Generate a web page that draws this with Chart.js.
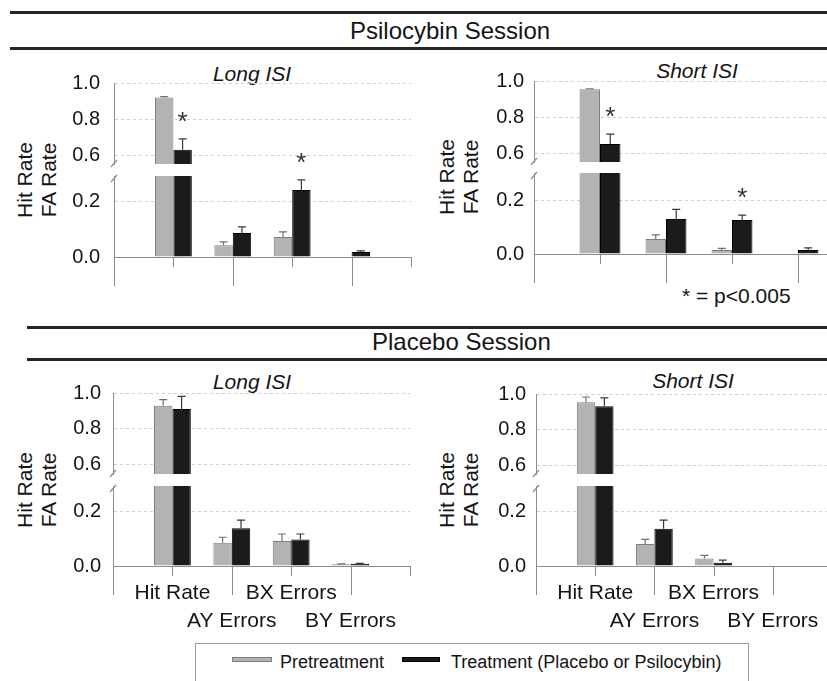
<!DOCTYPE html>
<html><head><meta charset="utf-8">
<script src="https://cdn.jsdelivr.net/npm/chart.js@4.4.1/dist/chart.umd.min.js"></script>
<style>
html,body{margin:0;padding:0;background:#fff;overflow:hidden;width:827px;height:681px;}
body{position:relative;font-family:"Liberation Sans",Arial,sans-serif;color:#141414;}
.rule{position:absolute;height:3px;background:#262626;right:0;}
.sess{position:absolute;font-size:24px;line-height:24px;white-space:nowrap;}
.ptitle{position:absolute;font-size:21px;line-height:21px;font-style:italic;white-space:nowrap;transform:translate(-50%,-50%);}
.ytitle{position:absolute;font-size:21px;line-height:24px;white-space:nowrap;text-align:center;transform:translate(-50%,-50%) rotate(-90deg);}
.note{position:absolute;font-size:21px;line-height:21px;white-space:nowrap;}
.legend{position:absolute;left:195px;top:643px;width:552px;height:60px;border:1px solid #9a9a9a;}
.sw{position:absolute;height:5px;box-sizing:border-box;}
.lt{position:absolute;font-size:18px;line-height:18px;white-space:nowrap;}
canvas{position:absolute;}
</style></head><body>
<div class="rule" style="left:10px;top:11px"></div>
<div class="sess" style="left:350px;top:19px">Psilocybin Session</div>
<div class="rule" style="left:10px;top:47px"></div>
<div class="rule" style="left:27px;top:326px"></div>
<div class="sess" style="left:372px;top:330px">Placebo Session</div>
<div class="rule" style="left:27px;top:358px"></div>

<div class="ptitle" style="left:252px;top:73px">Long ISI</div>
<div class="ptitle" style="left:697px;top:70px">Short ISI</div>
<div class="ptitle" style="left:252px;top:381px">Long ISI</div>
<div class="ptitle" style="left:693px;top:380px">Short ISI</div>

<div class="ytitle" style="left:37px;top:180px">Hit Rate<br>FA Rate</div>
<div class="ytitle" style="left:459px;top:177px">Hit Rate<br>FA Rate</div>
<div class="ytitle" style="left:37px;top:490px">Hit Rate<br>FA Rate</div>
<div class="ytitle" style="left:459px;top:490px">Hit Rate<br>FA Rate</div>

<div class="note" style="left:682px;top:285px">* = p&lt;0.005</div>

<div class="legend"></div>
<div class="sw" style="left:232px;top:657px;width:40px;background:#b3b3b3;border:1px solid #7d7d7d"></div>
<div class="lt" style="left:280px;top:653px">Pretreatment</div>
<div class="sw" style="left:402px;top:657px;width:38px;background:#1b1b1b;border:1px solid #000"></div>
<div class="lt" style="left:451px;top:653px">Treatment (Placebo or Psilocybin)</div>

<script>
// ---------- data ----------
const categories = ['Hit Rate', 'AY Errors', 'BX Errors', 'BY Errors'];
const seriesNames = ['Pretreatment', 'Treatment (Placebo or Psilocybin)'];
const yTicksUpper = [0.6, 0.8, 1.0];
const yTicksLower = [0.0, 0.2];

// Psilocybin session, long ISI
const psiLongPre      = [0.920, 0.042, 0.072, 0.000];
const psiLongPreErr   = [0.005, 0.012, 0.018, 0.000];
const psiLongTreat    = [0.632, 0.086, 0.240, 0.018];
const psiLongTreatErr = [0.060, 0.022, 0.036, 0.004];
const psiLongSig      = [true, false, true, false];

// Psilocybin session, short ISI
const psiShortPre      = [0.954, 0.056, 0.015, 0.000];
const psiShortPreErr   = [0.003, 0.015, 0.006, 0.000];
const psiShortTreat    = [0.650, 0.130, 0.126, 0.015];
const psiShortTreatErr = [0.055, 0.035, 0.018, 0.008];
const psiShortSig      = [true, false, true, false];

// Placebo session, long ISI
const plaLongPre      = [0.929, 0.086, 0.092, 0.006];
const plaLongPreErr   = [0.034, 0.020, 0.026, 0.002];
const plaLongTreat    = [0.911, 0.139, 0.098, 0.008];
const plaLongTreatErr = [0.070, 0.030, 0.020, 0.002];
const plaLongSig      = [false, false, false, false];

// Placebo session, short ISI
const plaShortPre      = [0.953, 0.081, 0.028, 0.000];
const plaShortPreErr   = [0.030, 0.017, 0.011, 0.000];
const plaShortTreat    = [0.931, 0.137, 0.012, 0.000];
const plaShortTreatErr = [0.047, 0.032, 0.010, 0.000];
const plaShortSig      = [false, false, false, false];

const panelData = {
  psiLong:  {pre: psiLongPre,  preErr: psiLongPreErr,  treat: psiLongTreat,  treatErr: psiLongTreatErr,  sig: psiLongSig},
  psiShort: {pre: psiShortPre, preErr: psiShortPreErr, treat: psiShortTreat, treatErr: psiShortTreatErr, sig: psiShortSig},
  plaLong:  {pre: plaLongPre,  preErr: plaLongPreErr,  treat: plaLongTreat,  treatErr: plaLongTreatErr,  sig: plaLongSig},
  plaShort: {pre: plaShortPre, preErr: plaShortPreErr, treat: plaShortTreat, treatErr: plaShortTreatErr, sig: plaShortSig}
};

// ---------- layout (pixel geometry of each broken-axis panel) ----------
const panels = [
  {key:'psiLong',  L:114, R:411, uTop:83,  uBot:164, lTop:176, lBot:257, uMin:0.553, lMax:0.29,  pad:14, labels:false},
  {key:'psiShort', L:534, R:864, uTop:81,  uBot:162, lTop:173, lBot:254, uMin:0.55,  lMax:0.30,  pad:10, labels:false},
  {key:'plaLong',  L:113, R:410, uTop:393, uBot:474, lTop:486, lBot:566, uMin:0.548, lMax:0.295, pad:12, labels:true},
  {key:'plaShort', L:536, R:832, uTop:394, uBot:474, lTop:486, lBot:566, uMin:0.55,  lMax:0.295, pad:10, labels:true}
];

Chart.defaults.font.family = '"Liberation Sans", Arial, sans-serif';
const AXIS = '#8c8c8c';

function makeChart(p, part) {
  const d = panelData[p.key];
  const isUpper = part === 'upper';
  const YW = 70, PT = 40, PR = 20;
  const top = isUpper ? p.uTop : p.lTop, bot = isUpper ? p.uBot : p.lBot;
  const XH = isUpper ? 0 : (p.labels ? 75 : 40);
  const PB = isUpper ? 40 : 0;
  const w = YW + (p.R - p.L) + PR;
  const h = PT + (bot - top) + PB + XH;
  const cv = document.createElement('canvas');
  cv.width = w; cv.height = h;
  cv.style.left = (p.L - YW) + 'px'; cv.style.top = (top - PT) + 'px';
  cv.style.width = w + 'px'; cv.style.height = h + 'px';
  document.body.appendChild(cv);

  const labels = ['', ...categories.map((c, i) => p.labels ? (i % 2 === 0 ? [c, ''] : ['', c]) : c), ''];
  const padArr = a => [null, ...a, null];

  const decor = {
    id: 'decor',
    afterDatasetsDraw(chart) {
      const {ctx, chartArea: a, scales: {y}} = chart;
      ctx.save();
      ctx.beginPath(); ctx.rect(a.left, a.top - 1, a.right - a.left, a.bottom - a.top + 1); ctx.clip();
      chart.data.datasets.forEach((ds, di) => {
        const meta = chart.getDatasetMeta(di);
        meta.data.forEach((el, j) => {
          const v = ds.data[j], e = ds.errors[j];
          if (v == null || !e) return;
          const tp = y.getPixelForValue(v + e);
          ctx.strokeStyle = ds.errColor; ctx.lineWidth = 1.2;
          ctx.beginPath();
          ctx.moveTo(el.x, el.y); ctx.lineTo(el.x, tp);
          ctx.moveTo(el.x - 4, tp); ctx.lineTo(el.x + 4, tp);
          ctx.stroke();
        });
      });
      ctx.restore();
      ctx.save();
      ctx.fillStyle = '#333';
      ctx.font = '26px "Liberation Sans", Arial, sans-serif';
      ctx.textAlign = 'center'; ctx.textBaseline = 'middle';
      chart.data.datasets.forEach((ds, di) => {
        if (!ds.sig) return;
        const meta = chart.getDatasetMeta(di);
        meta.data.forEach((el, j) => {
          if (!ds.sig[j]) return;
          const t = ds.data[j] + ds.errors[j];
          if (t < y.min || t > y.max) return;
          ctx.fillText('*', el.x, y.getPixelForValue(t) - 16);
        });
      });
      ctx.restore();
    },
    afterDraw(chart) {
      const {ctx, chartArea: a, scales: {x}} = chart;
      ctx.save();
      ctx.strokeStyle = AXIS; ctx.lineWidth = 1;
      if (!isUpper) {
        x.ticks.forEach((t, i) => {
          const px = Math.round(x.getPixelForTick(i)) + 0.5;
          ctx.beginPath(); ctx.moveTo(px, a.bottom); ctx.lineTo(px, a.bottom + (i % 2 === 0 ? 29 : 10)); ctx.stroke();
        });
        ctx.lineWidth = 1.2;
        ctx.beginPath(); ctx.moveTo(a.left - 3, a.top + 6); ctx.lineTo(a.left + 3, a.top - 1); ctx.stroke();
      } else {
        ctx.lineWidth = 1.2;
        ctx.beginPath(); ctx.moveTo(a.left - 3, a.bottom + 3); ctx.lineTo(a.left + 3, a.bottom - 4); ctx.stroke();
      }
      ctx.restore();
    }
  };

  new Chart(cv, {
    type: 'bar',
    data: {
      labels,
      datasets: [
        {label: seriesNames[0], data: padArr(d.pre), errors: padArr(d.preErr),
         backgroundColor: '#b3b3b3', borderColor: '#7d7d7d', borderWidth: 1, errColor: '#707070', clip: 0},
        {label: seriesNames[1], data: padArr(d.treat), errors: padArr(d.treatErr), sig: padArr(d.sig),
         backgroundColor: '#1b1b1b', borderColor: '#000', borderWidth: 1, errColor: '#3a3a3a', clip: 0}
      ]
    },
    options: {
      responsive: false, animation: false, devicePixelRatio: 1,
      layout: {padding: {top: PT, right: PR, bottom: PB, left: 0}},
      datasets: {bar: {categoryPercentage: 0.62, barPercentage: 1}},
      plugins: {legend: {display: false}, tooltip: {enabled: false}},
      scales: {
        x: {
          type: 'category', offset: false, display: !isUpper,
          grid: {display: false, drawTicks: false},
          border: {display: true, color: AXIS, width: 1},
          ticks: {display: p.labels, autoSkip: false, maxRotation: 0, minRotation: 0, padding: 14,
                  color: '#141414', font: {size: 21, lineHeight: 1.3}},
          afterFit: s => { s.height = XH; }
        },
        y: {
          min: isUpper ? p.uMin : 0, max: isUpper ? 1.0 : p.lMax,
          afterBuildTicks: s => { s.ticks = (isUpper ? yTicksUpper : yTicksLower).map(v => ({value: v})); },
          afterFit: s => { s.width = YW; },
          grid: {color: '#cfcfcf', lineWidth: 1, drawTicks: false},
          border: {display: true, color: AXIS, width: 1, dash: [3, 3]},
          ticks: {padding: p.pad, color: '#141414', font: {size: 20}, callback: v => Number(v).toFixed(1)}
        }
      }
    },
    plugins: [decor]
  });
}

panels.forEach(p => { makeChart(p, 'upper'); makeChart(p, 'lower'); });
</script>
</body></html>
